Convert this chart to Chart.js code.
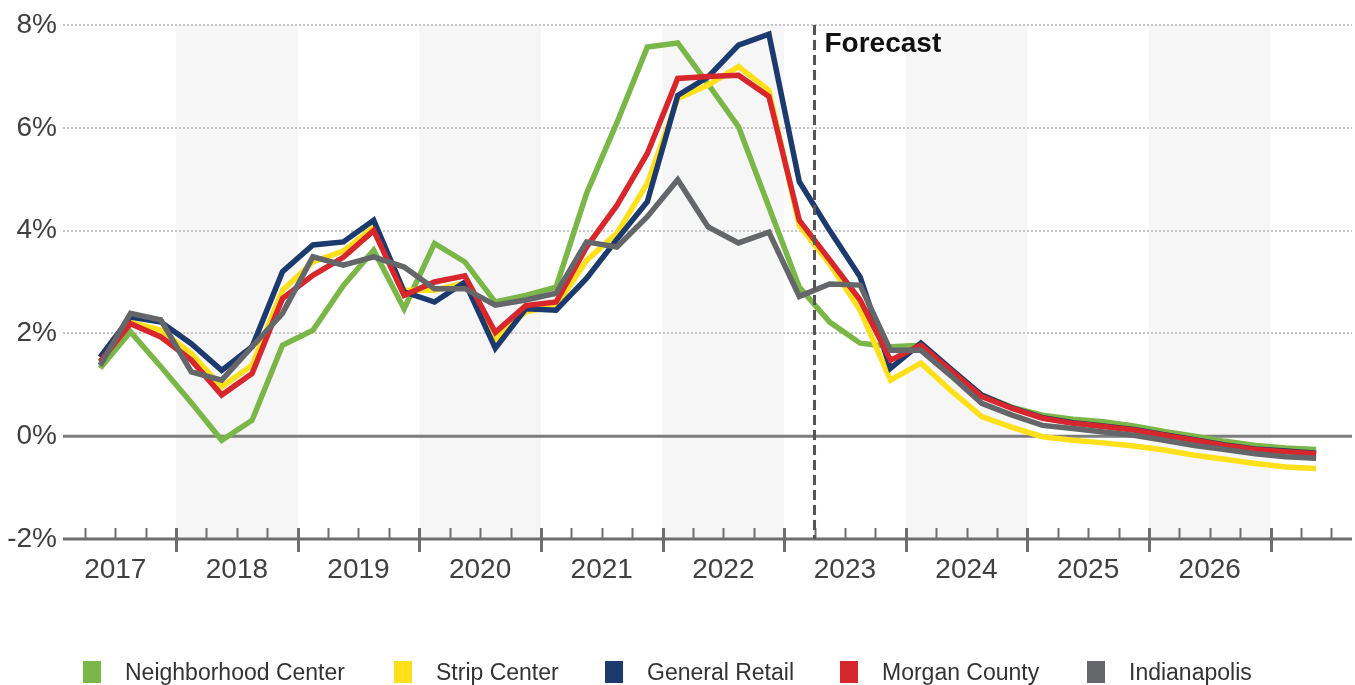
<!DOCTYPE html>
<html><head><meta charset="utf-8">
<script src="https://cdn.jsdelivr.net/npm/chart.js@4/dist/chart.umd.min.js"></script>
<style>
html,body{margin:0;padding:0;background:#fff;}
#wrap{position:relative;width:1355px;height:685px;overflow:hidden;}
#c{position:absolute;left:0;top:0;}
#legend{position:absolute;left:0;top:661px;width:1355px;height:24px;font-family:"Liberation Sans",Arial,sans-serif;font-size:23px;color:#333;line-height:22px;white-space:nowrap;}
.li{position:absolute;top:0;display:flex;align-items:center;}
.sw{display:inline-block;width:18px;height:22px;margin-right:24px;}
</style></head>
<body><div id="wrap"><canvas id="c" width="1355" height="685"></canvas><div id="legend"></div></div>
<script>
// ---- data ----
const quarters = [];
for (let yr = 2017; yr <= 2027; yr++) for (let q = 1; q <= 4; q++) if (quarters.length < 41) quarters.push(yr + ' Q' + q);
const years = ['2017','2018','2019','2020','2021','2022','2023','2024','2025','2026'];
const yTicks = [-2, 0, 2, 4, 6, 8];
const neighborhoodCenter = [1.32, 2.03, 1.35, 0.65, -0.08, 0.31, 1.77, 2.06, 2.93, 3.62, 2.48, 3.75, 3.39, 2.61, 2.74, 2.90, 4.72, 6.10, 7.57, 7.65, 6.85, 6.02, 4.46, 2.90, 2.22, 1.81, 1.74, 1.77, 1.28, 0.80, 0.56, 0.41, 0.33, 0.28, 0.20, 0.09, 0.00, -0.10, -0.18, -0.23, -0.26];
const stripCenter = [1.45, 2.22, 2.06, 1.61, 0.96, 1.38, 2.84, 3.39, 3.60, 4.07, 2.84, 2.84, 2.98, 1.88, 2.42, 2.53, 3.42, 3.95, 4.92, 6.57, 6.83, 7.19, 6.73, 4.10, 3.35, 2.45, 1.09, 1.42, 0.88, 0.38, 0.17, -0.01, -0.08, -0.13, -0.19, -0.27, -0.37, -0.45, -0.53, -0.60, -0.63];
const generalRetail = [1.54, 2.32, 2.22, 1.80, 1.28, 1.74, 3.20, 3.72, 3.78, 4.20, 2.81, 2.61, 3.00, 1.71, 2.48, 2.45, 3.07, 3.83, 4.56, 6.63, 6.99, 7.61, 7.82, 4.95, 4.00, 3.10, 1.32, 1.81, 1.30, 0.80, 0.55, 0.36, 0.26, 0.20, 0.13, 0.03, -0.07, -0.17, -0.25, -0.29, -0.33];
const morganCounty = [1.45, 2.19, 1.93, 1.48, 0.80, 1.22, 2.68, 3.13, 3.48, 4.00, 2.74, 3.00, 3.12, 2.02, 2.54, 2.61, 3.68, 4.49, 5.50, 6.96, 7.00, 7.02, 6.61, 4.20, 3.43, 2.65, 1.48, 1.77, 1.27, 0.77, 0.54, 0.35, 0.25, 0.19, 0.12, 0.02, -0.08, -0.18, -0.26, -0.30, -0.34];
const indianapolis = [1.38, 2.39, 2.26, 1.25, 1.09, 1.74, 2.39, 3.49, 3.33, 3.49, 3.29, 2.87, 2.87, 2.55, 2.65, 2.78, 3.78, 3.68, 4.27, 4.99, 4.07, 3.76, 3.97, 2.72, 2.96, 2.94, 1.67, 1.67, 1.17, 0.64, 0.41, 0.21, 0.15, 0.08, 0.02, -0.08, -0.18, -0.26, -0.34, -0.40, -0.43];
const seriesNames = ['Neighborhood Center', 'Strip Center', 'General Retail', 'Morgan County', 'Indianapolis'];
const forecastStart = '2023 Q1';

// ---- styles ----
const colors = ['#7ab648', '#ffe01b', '#1c3a6e', '#d7262c', '#646669'];
const legendLeft = [83, 394, 605, 840, 1087];
const FONT = '"Liberation Sans", Arial, sans-serif';
const seriesData = [neighborhoodCenter, stripCenter, generalRetail, morganCounty, indianapolis];

const datasets = seriesData.map((arr, k) => ({
  label: seriesNames[k],
  data: arr.map((v, i) => ({x: i, y: v})),
  borderColor: colors[k],
  backgroundColor: colors[k],
  borderWidth: 5.5,
  pointRadius: 0,
  tension: 0,
  fill: false,
  order: 5 - k
}));

// legend (HTML)
const lg = document.getElementById('legend');
seriesNames.forEach((n, k) => {
  const d = document.createElement('div'); d.className = 'li';
  d.style.left = legendLeft[k] + 'px';
  d.innerHTML = '<span class="sw" style="background:' + colors[k] + '"></span><span>' + n + '</span>';
  lg.appendChild(d);
});

const fIdx = quarters.indexOf(forecastStart) - 0.5;

const decor = {
  id: 'decor',
  beforeDraw(chart) {
    const {ctx, chartArea: a, scales: {x}} = chart;
    ctx.save();
    ctx.fillStyle = '#f6f6f6';
    years.forEach((yr, k) => {
      if (k % 2 === 1) {
        const x0 = x.getPixelForValue(4 * k - 1.5), x1 = x.getPixelForValue(4 * k + 2.5);
        ctx.fillRect(x0, a.top, x1 - x0, a.bottom - a.top);
      }
    });
    ctx.restore();
  },
  beforeDatasetsDraw(chart) {
    const {ctx, chartArea: a, scales: {y}} = chart;
    ctx.save();
    const y0 = y.getPixelForValue(0);
    ctx.strokeStyle = '#7d7d7d'; ctx.lineWidth = 3;
    ctx.beginPath(); ctx.moveTo(a.left, y0); ctx.lineTo(a.right, y0); ctx.stroke();
    ctx.restore();
  },
  afterDatasetsDraw(chart) {
    const {ctx, chartArea: a, scales: {x, y}} = chart;
    ctx.save();
    const yb = y.getPixelForValue(-2);
    for (let t = -0.5; t <= 40.5; t += 1) {
      const px = Math.round(x.getPixelForValue(t)) + 0.5;
      const major = ((t - 2.5) % 4 + 4) % 4 === 0;
      ctx.strokeStyle = '#6e6e6e';
      ctx.lineWidth = major ? 3 : 2;
      ctx.beginPath();
      ctx.moveTo(px, yb - 11);
      ctx.lineTo(px, major ? yb + 13 : yb);
      ctx.stroke();
    }
    ctx.strokeStyle = '#6e6e6e'; ctx.lineWidth = 3;
    ctx.beginPath(); ctx.moveTo(a.left, yb); ctx.lineTo(a.right, yb); ctx.stroke();
    const fx = x.getPixelForValue(fIdx);
    ctx.strokeStyle = '#555555'; ctx.lineWidth = 3; ctx.setLineDash([10, 5]);
    ctx.beginPath(); ctx.moveTo(fx, a.top); ctx.lineTo(fx, yb); ctx.stroke();
    ctx.setLineDash([]);
    ctx.fillStyle = '#111';
    ctx.font = 'bold 28px ' + FONT;
    ctx.textBaseline = 'alphabetic'; ctx.textAlign = 'left';
    ctx.fillText('Forecast', fx + 10, a.top + 27);
    ctx.restore();
  }
};

new Chart(document.getElementById('c'), {
  type: 'line',
  data: {labels: quarters, datasets},
  options: {
    responsive: false,
    animation: false,
    events: [],
    layout: {padding: {left: 0, right: 3, top: 25, bottom: 96}},
    plugins: {legend: {display: false}, tooltip: {enabled: false}},
    scales: {
      x: {
        type: 'linear',
        min: -1.22, max: 41.18,
        grid: {display: false, drawTicks: false},
        border: {display: false},
        afterBuildTicks: (s) => { s.ticks = years.map((_, k) => ({value: 4 * k + 0.5})); },
        afterFit: (s) => { s.height = 50; },
        ticks: {
          autoSkip: false, maxRotation: 0, padding: 14,
          color: '#404040', font: {family: FONT, size: 28},
          callback: (v, i) => years[i]
        }
      },
      y: {
        min: -2, max: 8,
        afterBuildTicks: (s) => { s.ticks = yTicks.map(v => ({value: v})); },
        afterFit: (s) => { s.width = 63; },
        grid: {
          drawTicks: false,
          color: (c) => (c.tick && (c.tick.value === 0 || c.tick.value === -2)) ? 'rgba(0,0,0,0)' : '#c4c4c4',
          lineWidth: 2
        },
        border: {display: false, dash: [2, 2]},
        ticks: {
          padding: 6, color: '#404040', font: {family: FONT, size: 28},
          callback: (v) => v + '%'
        }
      }
    }
  },
  plugins: [decor]
});
</script>
</body></html>
